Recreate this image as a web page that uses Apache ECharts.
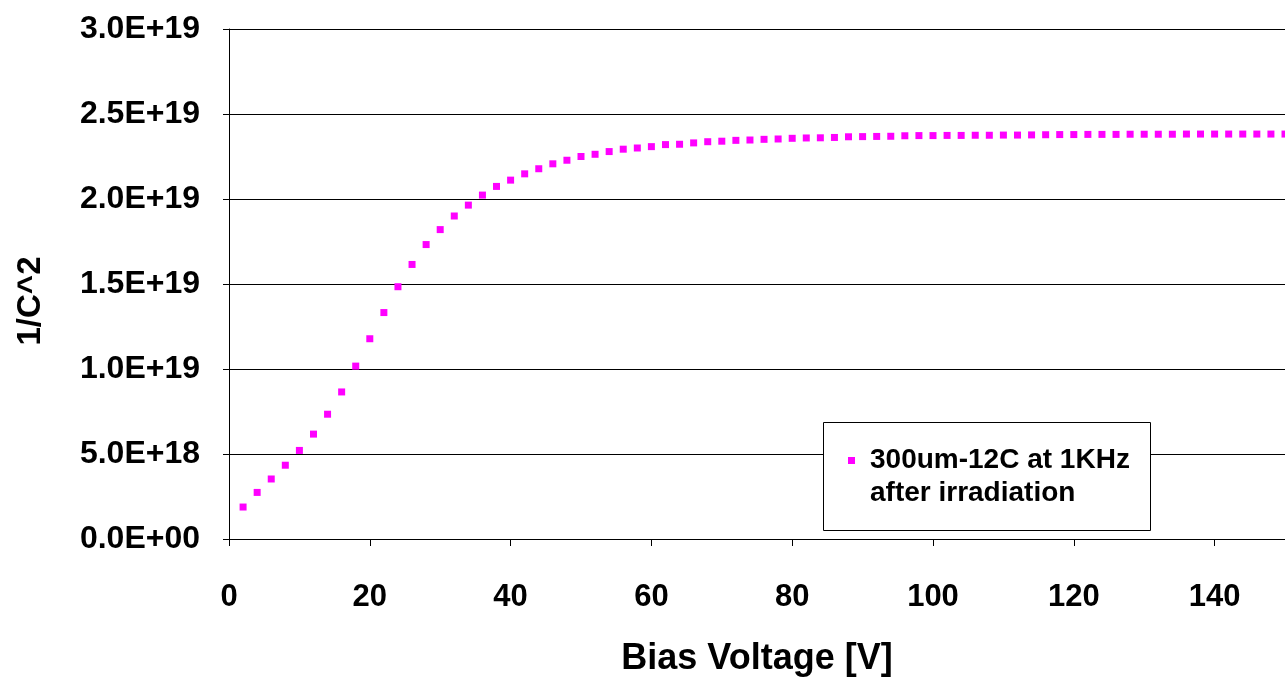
<!DOCTYPE html>
<html>
<head>
<meta charset="utf-8">
<script src="https://cdn.jsdelivr.net/npm/echarts@6/dist/echarts.min.js"></script>
<style>
  html, body { margin: 0; padding: 0; background: #ffffff; }
  #chart { width: 1285px; height: 682px; }
</style>
</head>
<body>
<div id="chart"></div>
<script>
// Bias voltage [V]
const voltages = [2,4,6,8,10,12,14,16,18,20,22,24,26,28,30,32,34,36,38,40,42,44,46,48,50,52,54,56,58,60,62,64,66,68,70,72,74,76,78,80,82,84,86,88,90,92,94,96,98,100,102,104,106,108,110,112,114,116,118,120,122,124,126,128,130,132,134,136,138,140,142,144,146,148,150];
// 1/C^2 values in units of 1E+18
const invC2_e18 = [1.88,2.74,3.53,4.34,5.21,6.17,7.34,8.65,10.17,11.78,13.32,14.84,16.15,17.32,18.20,19.00,19.64,20.23,20.74,21.11,21.48,21.78,22.07,22.28,22.50,22.63,22.79,22.93,23.00,23.08,23.20,23.22,23.30,23.37,23.40,23.45,23.47,23.51,23.53,23.57,23.59,23.60,23.62,23.66,23.67,23.68,23.69,23.72,23.73,23.73,23.74,23.74,23.75,23.75,23.76,23.76,23.77,23.78,23.79,23.79,23.80,23.80,23.80,23.81,23.81,23.81,23.81,23.82,23.82,23.82,23.82,23.82,23.82,23.82,23.82];
const seriesName = '300um-12C at 1KHz\nafter irradiation';
const xTitle = 'Bias Voltage [V]';
const yTitle = '1/C^2';

const points = voltages.map((v, i) => [v, invC2_e18[i] * 1e18]);

function sci(v) {
  if (v === 0) return '0.0E+00';
  const e = Math.floor(Math.log10(Math.abs(v)) + 1e-9);
  const m = v / Math.pow(10, e);
  return m.toFixed(1) + 'E+' + String(e).padStart(2, '0');
}

const FONT = '"Liberation Sans", Arial, sans-serif';
const chart = echarts.init(document.getElementById('chart'), null, { renderer: 'canvas' });
chart.setOption({
  animation: false,
  backgroundColor: '#ffffff',
  grid: { left: 229, right: 0, top: 29, bottom: 141, containLabel: false },
  xAxis: {
    type: 'value',
    min: 0, max: 150, interval: 20,
    name: xTitle,
    nameLocation: 'middle',
    nameGap: 102,
    nameTextStyle: { fontFamily: FONT, fontWeight: 'bold', fontSize: 36, color: '#000' },
    axisLine: { show: true, lineStyle: { color: '#000', width: 1 } },
    axisTick: { show: true, inside: false, length: 7, lineStyle: { color: '#000', width: 1 } },
    axisLabel: { showMaxLabel: false, margin: 43, fontFamily: FONT, fontWeight: 'bold', fontSize: 31, color: '#000' },
    splitLine: { show: false }
  },
  yAxis: {
    type: 'value',
    min: 0, max: 3e19, interval: 5e18,
    name: yTitle,
    nameLocation: 'middle',
    nameGap: 182,
    nameRotate: 90,
    nameTextStyle: { fontFamily: FONT, fontWeight: 'bold', fontSize: 33, color: '#000', padding: [0, 34, 0, 0] },
    axisLine: { show: true, lineStyle: { color: '#000', width: 1 } },
    axisTick: { show: true, inside: false, length: 6, lineStyle: { color: '#000', width: 1 } },
    axisLabel: { margin: 29, fontFamily: FONT, fontWeight: 'bold', fontSize: 32, color: '#000', formatter: sci },
    splitLine: { show: true, lineStyle: { color: '#000', width: 1 } }
  },
  legend: {
    show: true,
    left: 848, top: 411,
    padding: 0,
    itemWidth: 7, itemHeight: 7,
    icon: 'rect',
    selectedMode: false,
    formatter: name => ' \n' + name,
    textStyle: { fontFamily: FONT, fontWeight: 'bold', fontSize: 28, lineHeight: 33, color: '#000', padding: [0, 0, 0, 10] },
    data: [seriesName]
  },
  graphic: [{
    type: 'rect', z: 3,
    shape: { x: 823.5, y: 422.5, width: 327, height: 108 },
    style: { fill: '#ffffff', stroke: '#000', lineWidth: 1 }
  }],
  series: [{
    name: seriesName,
    type: 'scatter',
    symbol: 'rect',
    symbolSize: 7,
    itemStyle: { color: '#ff00ff', opacity: 1 },
    data: points
  }]
});
</script>
</body>
</html>
